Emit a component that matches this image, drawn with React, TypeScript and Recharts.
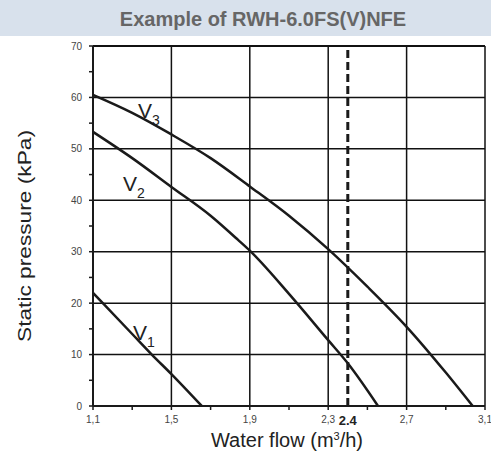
import React from 'react';
import { LineChart, Line, XAxis, YAxis, ReferenceLine, ReferenceDot } from 'recharts';

// Fan curves (flow m3/h -> static pressure kPa)
const v1Flow = [1.1, 1.3, 1.4, 1.5, 1.655];
const v1Pressure = [22, 14, 10, 6.2, 0];

const v2Flow = [1.1, 1.3, 1.5, 1.7, 1.84, 1.9, 2.1, 2.3, 2.4, 2.554];
const v2Pressure = [53.3, 48.2, 42.6, 37.0, 32.3, 30.2, 21.8, 12.8, 8.3, 0];

const v3Flow = [1.1, 1.3, 1.5, 1.7, 1.9, 2.1, 2.3, 2.5, 2.7, 2.9, 3.037];
const v3Pressure = [60.5, 57, 52.8, 48.2, 42.7, 37, 30.5, 23.2, 15.4, 6.5, 0];

const xTicks = [1.1, 1.3, 1.5, 1.7, 1.9, 2.1, 2.3, 2.5, 2.7, 2.9, 3.1];
const xMajor = [1.1, 1.5, 1.9, 2.3, 2.7, 3.1];
const yTicks = [0, 5, 10, 15, 20, 25, 30, 35, 40, 45, 50, 55, 60, 65, 70];
const yMajor = [0, 10, 20, 30, 40, 50, 60, 70];
const xGrid = [1.5, 1.9, 2.3, 2.7, 3.1];
const yGrid = [10, 20, 30, 40, 50, 60, 70];

const designFlow = 2.4;

// curve name labels, anchored at the left/baseline of the "V"
const curveLabels = [
  { name: '1', q: 1.304, p: 12.8 },
  { name: '2', q: 1.253, p: 41.8 },
  { name: '3', q: 1.33, p: 56.0 },
];

const toPoints = (flow: number[], pressure: number[]) =>
  flow.map((q, i) => ({ q, p: pressure[i] }));

const font = '"Liberation Sans", Arial, sans-serif';
const ink = '#1a1a1a';

const App: React.FC = () => {
  const isMajor = (list: number[], v: number) => list.some((m) => Math.abs(m - v) < 1e-6);

  return (
    <div style={{ position: 'absolute', left: 0, top: 0, width: 491, height: 455, background: '#fff', fontFamily: font }}>
      <LineChart width={491} height={455} margin={{ top: 46, right: 6, bottom: 0, left: 0 }}>
        {xGrid.map((x) => (
          <ReferenceLine key={'gx' + x} x={x} stroke="#111" strokeWidth={1.5} />
        ))}
        {yGrid.map((y) => (
          <ReferenceLine key={'gy' + y} y={y} stroke="#111" strokeWidth={y === 70 ? 2 : 1.5} />
        ))}
        <XAxis
          type="number"
          dataKey="q"
          domain={[1.1, 3.1]}
          ticks={xTicks}
          interval={0}
          allowDataOverflow
          height={49}
          tickSize={4}
          tickMargin={6}
          axisLine={{ stroke: ink, strokeWidth: 2 }}
          tickLine={{ stroke: ink, strokeWidth: 1.5 }}
          tick={{ fill: '#444', fontSize: 10, fontFamily: font }}
          tickFormatter={(v: number) => (isMajor(xMajor, v) ? v.toFixed(1).replace('.', ',') : '')}
          label={{
            content: (props: any) => {
              const vb = props.viewBox || { x: 93, y: 406, width: 392 };
              return (
                <text x={vb.x + vb.width / 2 - 2} y={vb.y + 41} textAnchor="middle" fill="#222" fontSize={20} fontFamily={font}>
                  Water flow (m<tspan fontSize={11} dy={-7}>3</tspan>
                  <tspan dy={7}>/h)</tspan>
                </text>
              );
            },
          }}
        />
        <YAxis
          type="number"
          dataKey="p"
          domain={[0, 70]}
          ticks={yTicks}
          interval={0}
          width={93}
          tickSize={4}
          tickMargin={7}
          axisLine={{ stroke: ink, strokeWidth: 2 }}
          tickLine={{ stroke: ink, strokeWidth: 1.5 }}
          tick={{ fill: '#444', fontSize: 10, fontFamily: font }}
          tickFormatter={(v: number) => (isMajor(yMajor, v) ? String(v) : '')}
          label={{
            content: (props: any) => {
              const vb = props.viewBox || { x: 0, y: 46, height: 360 };
              const cx = 24;
              const cy = vb.y + vb.height / 2 + 10;
              return (
                <text
                  x={cx}
                  y={cy}
                  transform={`rotate(-90 ${cx} ${cy})`}
                  textAnchor="middle"
                  dominantBaseline="central"
                  fill="#222"
                  fontSize={19}
                  fontFamily={font}
                  textLength={212}
                  lengthAdjust="spacingAndGlyphs"
                >
                  Static pressure (kPa)
                </text>
              );
            },
          }}
        />
        <ReferenceLine
          x={designFlow}
          stroke={ink}
          strokeWidth={3}
          strokeDasharray="8 4"
          label={{
            content: (props: any) => {
              const vb = props.viewBox || { x: 347, y: 46, height: 360 };
              return (
                <text x={vb.x} y={vb.y + vb.height + 19} textAnchor="middle" fill="#222" fontSize={13} fontWeight="bold" fontFamily={font}>
                  {String(designFlow)}
                </text>
              );
            },
          }}
        />
        <Line data={toPoints(v1Flow, v1Pressure)} dataKey="p" type="monotone" stroke={ink} strokeWidth={2.5} dot={false} isAnimationActive={false} />
        <Line data={toPoints(v2Flow, v2Pressure)} dataKey="p" type="monotone" stroke={ink} strokeWidth={2.5} dot={false} isAnimationActive={false} />
        <Line data={toPoints(v3Flow, v3Pressure)} dataKey="p" type="monotone" stroke={ink} strokeWidth={2.5} dot={false} isAnimationActive={false} />
        {curveLabels.map((c) => (
          <ReferenceDot
            key={c.name}
            x={c.q}
            y={c.p}
            r={1}
            fill="none"
            stroke="none"
            label={{
              content: (props: any) => {
                const vb = props.viewBox || { x: 0, y: 0, width: 0, height: 0 };
                const x = vb.x + (vb.width || 0) / 2;
                const y = vb.y + (vb.height || 0) / 2;
                return (
                  <text x={x} y={y} fill="#222" fontSize={21} fontFamily={font}>
                    V<tspan fontSize={14} dy={7}>{c.name}</tspan>
                  </text>
                );
              },
            }}
          />
        ))}
      </LineChart>
      <div
        style={{
          position: 'absolute',
          left: 0,
          top: 0,
          width: 491,
          height: 36,
          paddingLeft: 35,
          boxSizing: 'border-box',
          background: '#d8e1ec',
          color: '#666',
          fontFamily: font,
          fontWeight: 'bold',
          fontSize: 20,
          lineHeight: '38px',
          textAlign: 'center',
        }}
      >
        Example of RWH-6.0FS(V)NFE
      </div>
    </div>
  );
};

export default App;
